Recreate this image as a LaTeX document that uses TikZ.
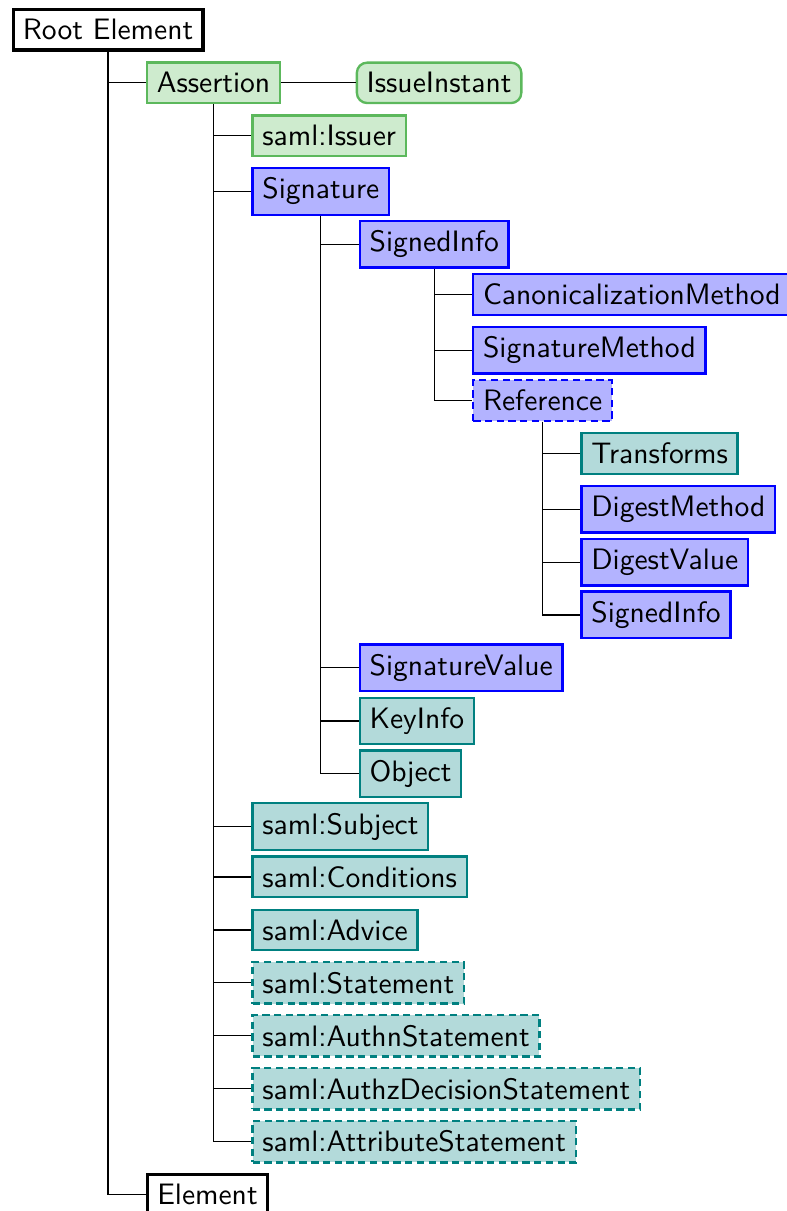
\documentclass[tikz,border=0pt]{standalone}
\usetikzlibrary{calc}
\definecolor{grnfill}{RGB}{206,235,206}
\definecolor{grnline}{RGB}{92,184,92}
\definecolor{blufill}{RGB}{179,179,255}
\definecolor{bluline}{RGB}{0,0,255}
\definecolor{teafill}{RGB}{179,218,218}
\definecolor{tealine}{RGB}{0,128,128}
\tikzset{
  box/.style={draw, line width=0.8pt, inner sep=.3333em, anchor=base west,
    font=\sffamily\fontsize{10.08}{12}\selectfont},
  plainbox/.style={box, fill=white, draw=black, line width=1.1pt},
  grnbox/.style={box, fill=grnfill, draw=grnline},
  blubox/.style={box, fill=blufill, draw=bluline},
  teabox/.style={box, fill=teafill, draw=tealine},
  optional/.style={dash pattern=on 2.5pt off 1.5pt},
  link/.style={draw=black, line width=0.4pt},
  indent/.style={xshift=12.9pt}
}
\begin{document}
\begin{tikzpicture}[x=0.341pt, y=-0.341pt]
\useasboundingbox (0,0) rectangle (786,1211);

% level 0
\node[plainbox] (root) at (11.5,40) {Root Element};
\coordinate (c1) at ([indent]root.south);

% level 1
\node[grnbox] (assertion) at (c1 |- 0,92.95) {Assertion};
\node[grnbox, rounded corners=3.5pt] (instant) at ([xshift=25.4pt]assertion.base east) {IssueInstant};
\node[plainbox] (element) at (c1 |- 0,1204.9) {Element};
\coordinate (c2) at ([indent]assertion.south);

% level 2: assertion children
\node[grnbox] (issuer) at (c2 |- 0,145.9) {saml:Issuer};
\node[blubox] (signature) at (c2 |- 0,198.85) {Signature};
\node[teabox] (subject) at (c2 |- 0,834.25) {saml:Subject};
\node[teabox] (conditions) at (c2 |- 0,887.2) {saml:Conditions};
\node[teabox] (advice) at (c2 |- 0,940.15) {saml:Advice};
\node[teabox, optional] (statement) at (c2 |- 0,993.1) {saml:Statement};
\node[teabox, optional] (authn) at (c2 |- 0,1046.05) {saml:AuthnStatement};
\node[teabox, optional] (authz) at (c2 |- 0,1099) {saml:AuthzDecisionStatement};
\node[teabox, optional] (attribute) at (c2 |- 0,1151.95) {saml:AttributeStatement};
\coordinate (c3) at ([indent]signature.south);

% level 3: signature children
\node[blubox] (signedinfo) at (c3 |- 0,251.8) {SignedInfo};
\node[blubox] (sigvalue) at (c3 |- 0,675.4) {SignatureValue};
\node[teabox] (keyinfo) at (c3 |- 0,728.35) {KeyInfo};
\node[teabox] (object) at (c3 |- 0,781.3) {Object};
\coordinate (c4) at ([indent]signedinfo.south);

% level 4: signedinfo children
\node[blubox] (canon) at (c4 |- 0,304.75) {CanonicalizationMethod};
\node[blubox] (sigmethod) at (c4 |- 0,357.7) {SignatureMethod};
\node[blubox, optional] (reference) at (c4 |- 0,410.65) {Reference};
\coordinate (c5) at ([indent]reference.south);

% level 5: reference children
\node[teabox] (transforms) at (c5 |- 0,463.6) {Transforms};
\node[blubox] (digestmethod) at (c5 |- 0,516.55) {DigestMethod};
\node[blubox] (digestvalue) at (c5 |- 0,569.5) {DigestValue};
\node[blubox] (refsignedinfo) at (c5 |- 0,622.45) {SignedInfo};

% connectors
\draw[link] (assertion.east) -- (instant.west);
\foreach \c in {assertion, element} \draw[link] (root.south) |- (\c.west);
\foreach \c in {issuer, signature, subject, conditions, advice, statement, authn, authz, attribute}
  \draw[link] (assertion.south) |- (\c.west);
\foreach \c in {signedinfo, sigvalue, keyinfo, object}
  \draw[link] (signature.south) |- (\c.west);
\foreach \c in {canon, sigmethod, reference}
  \draw[link] (signedinfo.south) |- (\c.west);
\foreach \c in {transforms, digestmethod, digestvalue, refsignedinfo}
  \draw[link] (reference.south) |- (\c.west);
\end{tikzpicture}
\end{document}
